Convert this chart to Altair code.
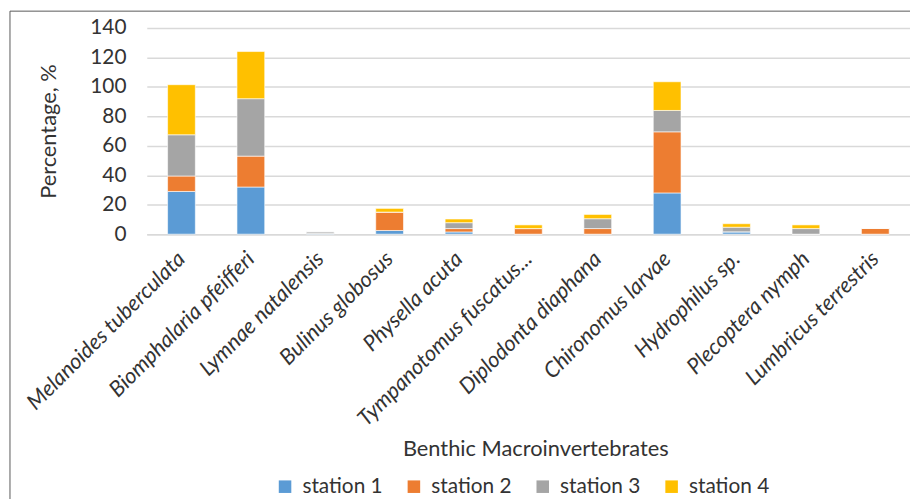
import altair as alt
import pandas as pd

categories = [
    "Melanoides tuberculata", "Biomphalaria pfeifferi", "Lymnae natalensis",
    "Bulinus globosus", "Physella acuta", "Tympanotomus fuscatus...",
    "Diplodonta diaphana", "Chironomus larvae", "Hydrophilus  sp.",
    "Plecoptera nymph", "Lumbricus terrestris",
]
stations = ["station 1", "station 2", "station 3", "station 4"]
station1 = [29, 32, 0.4, 2.5, 1.5, 0, 0, 28, 1.6, 0, 0]
station2 = [10.5, 21, 0, 12.5, 2.3, 3.8, 3.8, 41.5, 0, 0, 4]
station3 = [28, 39, 1.2, 0, 4, 0, 6.7, 14.5, 3.1, 3.8, 0]
station4 = [34, 32, 0, 2.5, 2.5, 2.5, 2.9, 19.5, 2.4, 2.5, 0]
colors = ["#5B9BD5", "#ED7D31", "#A5A5A5", "#FFC000"]

rows = []
for series, vals in zip(stations, [station1, station2, station3, station4]):
    for i, (c, v) in enumerate(zip(categories, vals)):
        rows.append({"taxon": c, "station": series, "value": v,
                     "order": stations.index(series)})
df = pd.DataFrame(rows)

FONT = "Lato"
TXT = "#333333"

bars = alt.Chart(df).mark_bar(stroke="white", strokeWidth=0.6).encode(
    x=alt.X("taxon:N", sort=categories,
            scale=alt.Scale(paddingInner=0.6, paddingOuter=0.3),
            axis=alt.Axis(title="Benthic Macroinvertebrates", labelAngle=-45,
                          labelAlign="right", labelBaseline="middle",
                          labelPadding=21, labelLimit=400, ticks=False,
                          tickSize=0, labelFontStyle="italic", labelFontSize=22,
                          domainColor="#d9d9d9", domainWidth=1.5,
                          titleX=392, titleY=206, titleBaseline="top",
                          titleFontSize=22)),
    y=alt.Y("value:Q", stack="zero",
            scale=alt.Scale(domain=[0, 140], nice=False),
            axis=alt.Axis(title="Percentage, %", values=list(range(0, 141, 20)),
                          ticks=False, tickSize=0, domain=False,
                          labelPadding=21, gridColor="#d9d9d9", gridWidth=1.5,
                          titleX=-99, titleY=104, titleAngle=-90, titleFontSize=22,
                          titleBaseline="middle", titleAlign="center")),
    color=alt.Color("station:N", sort=stations,
                    scale=alt.Scale(domain=stations, range=colors),
                    legend=alt.Legend(title=None, orient="none", direction="horizontal",
                                      legendX=129, legendY=452, symbolType="square",
                                      symbolSize=160, symbolStrokeWidth=0,
                                      labelOffset=7, columnPadding=20, padding=0)),
    order=alt.Order("order:Q", sort="ascending"),
)

frame = alt.Chart(alt.Data(values=[{"a": 1}])).mark_rect(
    filled=False, stroke="#595959", strokeWidth=1
).encode(
    x=alt.value(-138), y=alt.value(-17), x2=alt.value(800), y2=alt.value(520)
)

chart = alt.layer(bars, frame).properties(
    width=770, height=208,
    autosize=alt.AutoSizeParams(type="none"),
    padding={"left": 140, "top": 18, "right": 0, "bottom": 265},
).configure_view(stroke=None).configure_axis(
    labelFont=FONT, titleFont=FONT, labelFontSize=21, titleFontSize=21,
    labelColor=TXT, titleColor=TXT, titleFontWeight="normal",
).configure_legend(
    labelFont=FONT, labelFontSize=21, labelColor=TXT,
)

chart.save("out.html", embed_options={"renderer": "svg", "actions": False})
